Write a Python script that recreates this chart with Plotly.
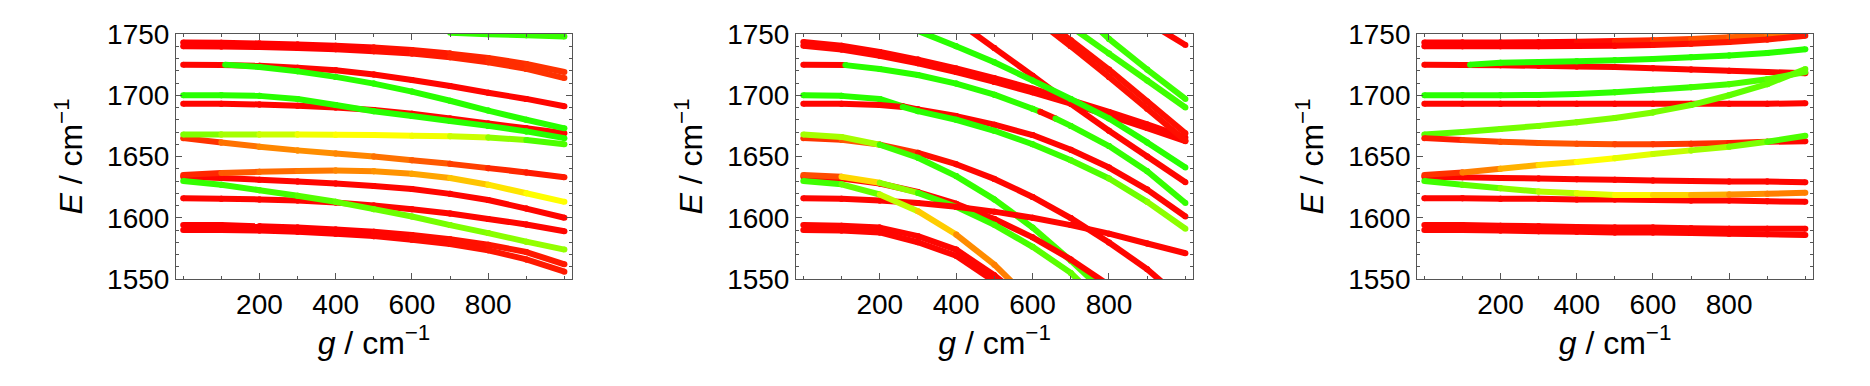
import colorsys
import plotly.graph_objects as go

# each curve: (g values, E values, colour value 0=red .. 1=green)
G = [0, 100, 200, 300, 400, 500, 600, 700, 800, 900, 1000]

# ---------- panel 1 ----------
p1_top_a = (G, [1743, 1742.8, 1742.3, 1741.5, 1740.5, 1739, 1737, 1734, 1730.5, 1725.5, 1719],
            [0, 0, 0, 0, 0, 0.02, 0.04, 0.06, 0.08, 0.1, 0.1])
p1_top_b = (G, [1740, 1739.8, 1739.3, 1738.5, 1737.5, 1736, 1734, 1731, 1727, 1721.5, 1714],
            [0, 0, 0, 0, 0, 0.02, 0.04, 0.06, 0.08, 0.1, 0.1])
p1_edge = ([700, 800, 900, 1000], [1751, 1749.8, 1749, 1748], [0.9, 0.9, 0.9, 0.88])
p1_r1725 = (G, [1725, 1724.8, 1724, 1722.5, 1720.5, 1717, 1712.5, 1707.5, 1702, 1697, 1691], [0.01] * 11)
p1_g1725 = ([110, 200, 300, 400, 500, 600, 700, 800, 900, 1000],
            [1725, 1723, 1719.5, 1715, 1709.5, 1703, 1695.5, 1687.5, 1680, 1673], [0.92] * 10)
p1_r1693 = (G, [1693, 1693, 1692.5, 1691.5, 1690, 1688, 1685, 1681, 1677, 1673, 1669], [0.01] * 11)
p1_g1700 = (G, [1700, 1700, 1699.5, 1697, 1692, 1687, 1683, 1679, 1675, 1670.5, 1665], [0.92] * 11)
p1_y1668 = (G, [1668, 1668, 1668, 1668, 1667.8, 1667.5, 1667, 1666.5, 1665.5, 1663.5, 1660],
            [0.8, 0.7, 0.65, 0.55, 0.5, 0.5, 0.5, 0.55, 0.65, 0.8, 0.9])
p1_o1665 = (G, [1665, 1661.5, 1658, 1655, 1652.5, 1650, 1647, 1644, 1640.5, 1637, 1633],
            [0, 0.2, 0.25, 0.28, 0.28, 0.25, 0.2, 0.15, 0.1, 0.06, 0.04])
p1_o1635 = (G, [1635, 1636.5, 1637.5, 1638.2, 1638.5, 1638, 1636, 1632.5, 1627, 1620, 1613],
            [0, 0.15, 0.2, 0.22, 0.25, 0.28, 0.3, 0.35, 0.42, 0.48, 0.52])
p1_r1633 = (G, [1633.5, 1632.5, 1631, 1629.5, 1628, 1626, 1623.5, 1619.5, 1614.5, 1607.5, 1600], [0.01] * 11)
p1_r1616 = (G, [1616, 1615.5, 1615, 1614, 1612.5, 1610, 1607, 1603.5, 1599, 1594.5, 1589], [0.01] * 11)
p1_g1630 = (G, [1630, 1627, 1622.5, 1618, 1613, 1607, 1601, 1594, 1587.5, 1580.5, 1574],
            [0.9, 0.9, 0.88, 0.85, 0.82, 0.8, 0.78, 0.76, 0.74, 0.72, 0.7])
p1_bot_a = (G, [1594, 1594, 1593, 1592, 1590.5, 1588.5, 1586, 1582.5, 1578, 1572, 1562],
            [0, 0, 0, 0, 0, 0, 0.02, 0.03, 0.04, 0.05, 0.05])
p1_bot_b = (G, [1590, 1590, 1589.5, 1588.5, 1587, 1585, 1582, 1578.5, 1573.5, 1566, 1556],
            [0, 0, 0, 0, 0, 0, 0.02, 0.03, 0.04, 0.05, 0.05])

# ---------- panel 2 (strong coupling) ----------
p2_top_a = (G, [1743.5, 1740.4, 1735.3, 1729.1, 1721.9, 1713.9, 1705.4, 1696.1, 1686.4, 1676.2, 1665.5], [0.01] * 11)
p2_top_b = (G, [1740.5, 1737.4, 1732.3, 1726.1, 1718.9, 1710.9, 1702.4, 1693.1, 1683.4, 1673.2, 1662.5], [0.01] * 11)
p2_r1725 = ([0, 110], [1725, 1724.6], [0.01, 0.01])
p2_g1725 = ([110, 200, 300, 400, 500, 600, 620, 660, 700, 800, 900, 1000],
            [1724.6, 1721.5, 1716.5, 1709.5, 1700.5, 1689, 1686.5, 1681, 1675, 1658.5, 1638, 1612],
            [0.92, 0.92, 0.92, 0.92, 0.92, 0.9, 0.02, 0.9, 0.9, 0.9, 0.9, 0.9])
p2_in300 = ([300, 400, 500, 600, 700, 800, 900, 1000],
            [1752.5, 1740, 1727, 1712, 1697, 1681, 1661.5, 1641], [0.92] * 8)
p2_in450 = ([400, 500, 600, 700, 800, 900, 1000],
            [1761, 1738.5, 1716, 1693, 1671, 1650, 1629], [0.01] * 7)
p2_in660a = ([600, 700, 800, 900, 1000], [1768, 1745, 1721, 1695, 1669], [0.03] * 5)
p2_in660b = ([600, 700, 800, 900, 1000], [1764, 1740, 1715, 1689, 1663], [0.03] * 5)
p2_in740a = ([700, 800, 900, 1000], [1756, 1734, 1712, 1690], [0.88] * 4)
p2_in740b = ([700, 800, 900, 1000], [1775, 1746, 1721, 1697], [0.88] * 4)
p2_in950 = ([900, 1000], [1760, 1741], [0.01, 0.01])
p2_g1700 = ([0, 100, 200, 260, 300, 400, 500, 600, 700, 800, 900, 1000],
            [1700, 1699.5, 1697, 1691, 1688.5, 1683, 1676, 1667.5, 1655.5, 1641, 1623, 1601],
            [0.92, 0.92, 0.92, 0.02, 0.01, 0.01, 0.01, 0.01, 0.01, 0.01, 0.01, 0.01])
p2_r1693 = ([0, 100, 200, 260, 300, 400, 500, 600, 700, 800, 900, 1000],
            [1693, 1693, 1692, 1690.5, 1687, 1680, 1671, 1660, 1647, 1632, 1613, 1591],
            [0.01, 0.01, 0.01, 0.92, 0.92, 0.92, 0.92, 0.9, 0.88, 0.82, 0.75, 0.7])
p2_g1668 = ([0, 100, 200, 300, 400, 500, 600, 700, 800],
            [1668, 1666, 1659.6, 1649, 1634, 1615, 1592, 1565, 1536],
            [0.85, 0.5, 0.85, 0.9, 0.9, 0.9, 0.88, 0.85, 0.85])
p2_r1665 = (G, [1665, 1663.7, 1659.7, 1653, 1643.7, 1631.7, 1617, 1599.7, 1579.8, 1558, 1531],
            [0.01, 0.2, 0.15, 0.05, 0.01, 0.01, 0.01, 0.01, 0.01, 0.01, 0.01])
p2_o1635 = ([0, 100, 200, 300, 400, 500, 600, 700, 800],
            [1635, 1633.4, 1628.5, 1620.3, 1608.9, 1594.2, 1576.3, 1555, 1524.5],
            [0.05, 0.25, 0.6, 0.85, 0.9, 0.88, 0.85, 0.8, 0.8])
p2_r1633 = ([0, 100, 200, 300, 400, 500, 600, 700, 800],
            [1633.5, 1632, 1628, 1621, 1611.5, 1599, 1584, 1566, 1545], [0.01] * 9)
p2_g1630 = ([0, 100, 200, 300, 400, 500, 600],
            [1630, 1627.3, 1619, 1605.4, 1586.3, 1561.7, 1531],
            [0.9, 0.85, 0.75, 0.5, 0.3, 0.25, 0.25])
p2_r1616 = (G, [1616, 1615.5, 1614, 1612, 1609, 1605, 1600, 1594, 1587, 1579, 1571], [0.01] * 11)
p2_bot_a = ([0, 100, 200, 300, 400, 500, 600], [1594, 1593.5, 1592, 1585, 1574, 1553, 1528], [0.01] * 7)
p2_bot_b = ([0, 100, 200, 300, 400, 500, 600], [1590, 1589.5, 1588, 1580, 1569, 1548, 1523], [0.01] * 7)

# ---------- panel 3 ----------
p3_top_a = (G, [1743, 1743, 1743, 1743.3, 1743.7, 1744.2, 1745, 1746, 1747.3, 1748.8, 1750.5],
            [0, 0, 0, 0, 0, 0.05, 0.1, 0.15, 0.18, 0.2, 0.25])
p3_top_b = (G, [1740, 1740, 1740, 1740, 1740.2, 1740.5, 1741, 1742, 1743.5, 1745.5, 1748.5],
            [0, 0, 0, 0, 0, 0, 0.02, 0.04, 0.05, 0.05, 0.05])
p3_r1725 = (G, [1725, 1724.8, 1724.5, 1724, 1723.5, 1723, 1722, 1721, 1720, 1719, 1718], [0.01] * 11)
p3_g1725 = ([120, 200, 300, 400, 500, 600, 700, 800, 900, 1000],
            [1725, 1726.5, 1727.2, 1727.8, 1728.5, 1729.5, 1731, 1732.5, 1734.5, 1737.5], [0.92] * 10)
p3_g1700 = (G, [1700, 1700, 1700, 1700.3, 1701, 1702.5, 1704.5, 1706.5, 1709, 1713, 1719],
            [0.92, 0.92, 0.92, 0.92, 0.92, 0.9, 0.9, 0.88, 0.86, 0.84, 0.8])
p3_r1693 = (G, [1693] * 10 + [1693.5], [0.01] * 11)
p3_g1668 = (G, [1668, 1670, 1672.5, 1675, 1678, 1681.5, 1686, 1692, 1700, 1709, 1721.5],
            [0.85, 0.8, 0.78, 0.76, 0.75, 0.75, 0.75, 0.78, 0.8, 0.82, 0.8])
p3_o1665 = (G, [1665, 1663.5, 1662, 1661, 1660.5, 1660, 1660, 1660.5, 1661, 1662, 1662.5],
            [0, 0.12, 0.15, 0.17, 0.17, 0.15, 0.12, 0.1, 0.08, 0.03, 0])
p3_y1635 = (G, [1635, 1637, 1640, 1643, 1645.5, 1648.5, 1652, 1655, 1658, 1662, 1667],
            [0, 0.2, 0.3, 0.4, 0.48, 0.52, 0.58, 0.65, 0.72, 0.8, 0.9])
p3_r1633 = (G, [1633.5, 1633, 1632.5, 1632, 1631.5, 1631, 1630.5, 1630, 1629.5, 1629.5, 1629], [0.01] * 11)
p3_g1630 = (G, [1630, 1627, 1624, 1621.5, 1620, 1618.5, 1618.5, 1618.5, 1619, 1619.5, 1620.5],
            [0.9, 0.85, 0.78, 0.68, 0.6, 0.52, 0.45, 0.38, 0.3, 0.26, 0.24])
p3_r1616 = (G, [1616, 1616, 1615.5, 1615.5, 1615, 1615, 1614.5, 1614, 1614, 1613.5, 1613], [0.01] * 11)
p3_bot_a = (G, [1594, 1594, 1593.5, 1593, 1592.5, 1592, 1592, 1591.5, 1591, 1591, 1591], [0.01] * 11)
p3_bot_b = (G, [1590, 1590, 1589.5, 1589, 1588.5, 1588, 1588, 1587.5, 1587, 1586.5, 1586], [0.01] * 11)

panels = [
    [p1_top_a, p1_top_b, p1_edge, p1_r1725, p1_r1693, p1_g1700, p1_g1725, p1_o1665, p1_y1668,
     p1_r1633, p1_r1616, p1_o1635, p1_g1630, p1_bot_a, p1_bot_b],
    [p2_top_a, p2_top_b, p2_in660a, p2_in660b, p2_in450, p2_r1725, p2_g1725, p2_in300,
     p2_in740a, p2_in740b, p2_in950, p2_g1700, p2_r1693, p2_r1665, p2_g1668,
     p2_r1633, p2_o1635, p2_r1616, p2_g1630, p2_bot_a, p2_bot_b],
    [p3_top_a, p3_top_b, p3_r1725, p3_g1725, p3_r1693, p3_g1700, p3_g1668, p3_o1665,
     p3_r1633, p3_r1616, p3_y1635, p3_g1630, p3_bot_a, p3_bot_b],
]


def hue(c):
    r, g, b = colorsys.hsv_to_rgb(c / 3.0, 1, 1)
    return 'rgb(%d,%d,%d)' % (r * 255, g * 255, b * 255)


fig = go.Figure()
xdoms = [[0.0941, 0.3059], [0.4257, 0.6380], [0.7578, 0.9695]]
ydom = [0.2772, 0.9119]
W = 6

for k, curves in enumerate(panels):
    ax = '' if k == 0 else str(k + 1)
    for g, e, c in curves:
        for i in range(len(g) - 1):
            # smooth blend for gradual changes, hard switch for character swaps
            if abs(c[i] - c[i + 1]) < 0.4:
                col = hue((c[i] + c[i + 1]) / 2)
            else:
                col = hue(c[i])
            fig.add_trace(go.Scatter(
                x=[g[i], g[i + 1]], y=[e[i], e[i + 1]],
                mode='lines+markers',
                line=dict(color=col, width=W),
                marker=dict(color=col, size=W),
                xaxis='x' + ax, yaxis='y' + ax,
                showlegend=False, hoverinfo='skip'
            ))

font = 'Liberation Sans, Arial, sans-serif'
axis_common = dict(
    showline=True, mirror='allticks', linecolor='#555', linewidth=1, automargin=False,
    ticks='inside', ticklen=6, tickcolor='#555', showgrid=False, zeroline=False,
    tickfont=dict(family=font, size=28, color='black'),
)
for k in range(3):
    ax = '' if k == 0 else str(k + 1)
    fig.layout['xaxis' + ax] = dict(
        axis_common, domain=xdoms[k], range=[-19, 1020], anchor='y' + ax,
        tickvals=[200, 400, 600, 800],
        minor=dict(ticks='inside', ticklen=3, tickcolor='#555', dtick=100, tick0=0),
        title=dict(text='<i>g</i> / cm<sup>−1</sup>', font=dict(family=font, size=32, color='black'),
                   standoff=12),
    )
    fig.layout['yaxis' + ax] = dict(
        axis_common, domain=ydom, range=[1550, 1750], anchor='x' + ax,
        tickvals=[1550, 1600, 1650, 1700, 1750],
        minor=dict(ticks='inside', ticklen=3, tickcolor='#555', dtick=10, tick0=1550),
        title=dict(text='<i>E</i> / cm<sup>−1</sup>', font=dict(family=font, size=32, color='black'),
                   standoff=14),
    )

fig.update_layout(
    width=1870, height=386,
    margin=dict(l=0, r=0, t=0, b=0),
    plot_bgcolor='white', paper_bgcolor='white',
)
fig.write_html("out.html", config={'displayModeBar': False},
               post_script="document.body.style.margin='0px';")
